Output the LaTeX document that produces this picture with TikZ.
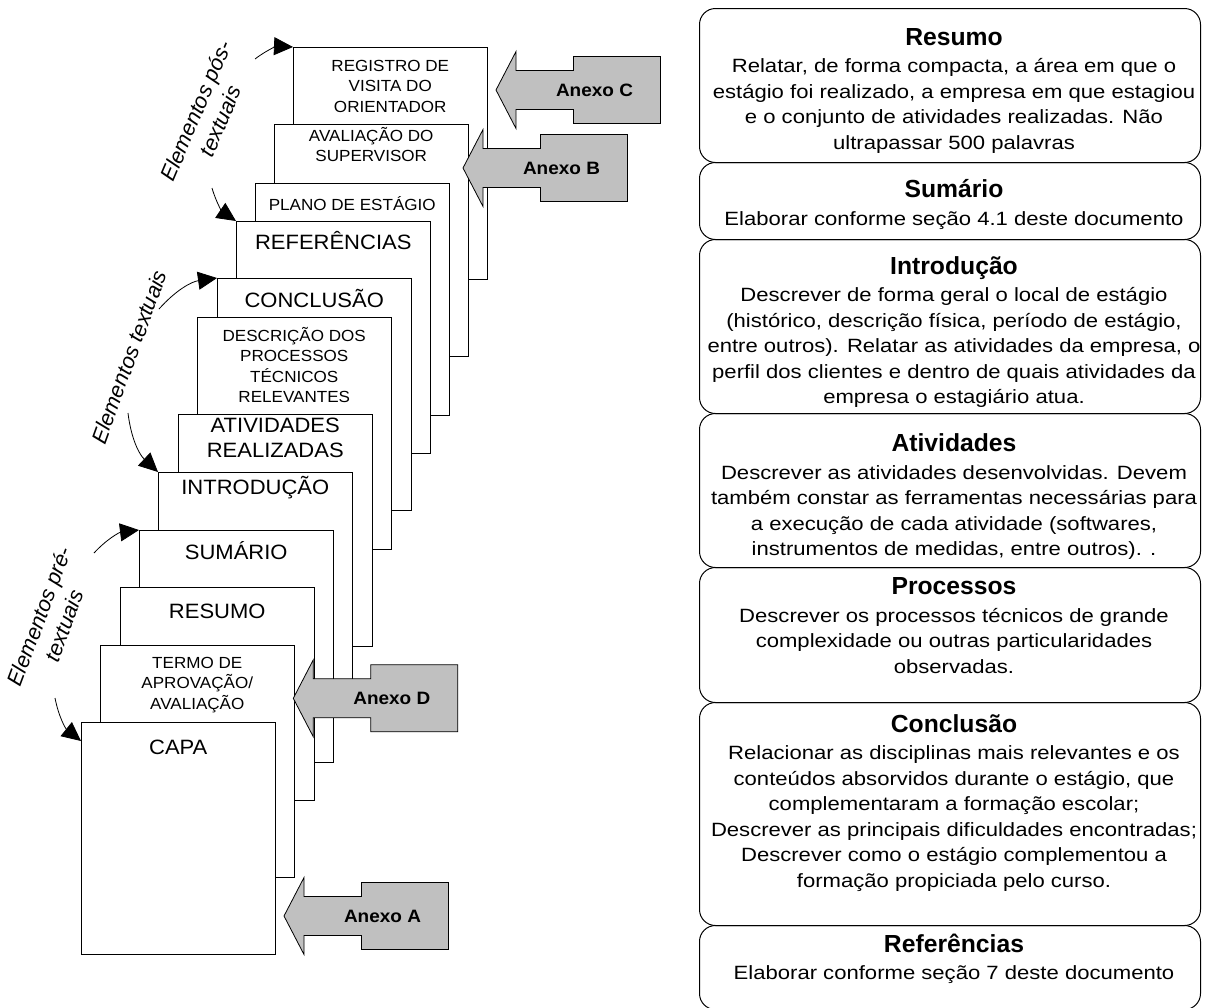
\documentclass[tikz,border=0pt]{standalone}
\usepackage{fontspec}
\setmainfont{Liberation Sans}
\newfontfamily\pagefont[FakeStretch=1.06]{Liberation Sans}
\newfontfamily\descfont[FakeStretch=1.15]{Liberation Sans}
\usetikzlibrary{positioning,arrows.meta}
\definecolor{anexogray}{RGB}{192,192,192}
\newcommand\boxtitle[1]{{\rmfamily\bfseries\fontsize{24.7}{25.5}\selectfont #1}}

\begin{document}
\begin{tikzpicture}[x=1pt, y=-1pt,
    page/.style={draw, fill=white, line width=1pt, anchor=north west,
      minimum width=193.5pt, minimum height=231.5pt, inner sep=0pt},
    small/.style={align=center, inner sep=0pt, font=\pagefont\fontsize{16.1}{20.4}\selectfont},
    big/.style={align=center, inner sep=0pt, font=\pagefont\fontsize{20.75}{24.7}\selectfont},
    part/.style={align=center, inner sep=0pt, font=\itshape\fontsize{21.6}{26.4}\selectfont},
    partarrow/.style={line width=0.8pt, -{Triangle[length=19pt,width=18pt]}},
    infobox/.style={draw, line width=1pt, rounded corners=16pt, anchor=north west,
      minimum width=501pt, inner sep=0pt},
    infotext/.style={align=center, inner sep=0pt, xshift=4pt,
      font=\descfont\fontsize{19.2}{25.5}\selectfont},
    pics/anexo/.style={code={
      \draw[fill=anexogray, line width=0.8pt] (0,0) -- (20,-38.5) -- (20,-19.5) -- (77.5,-19.5)
        -- (77.5,-33.5) -- (164.5,-33.5) -- (164.5,33.5) -- (77.5,33.5) -- (77.5,19.5)
        -- (20,19.5) -- (20,38.5) -- cycle;
      \node[font=\pagefont\bfseries\fontsize{17.9}{20}\selectfont] (-txt) at (98.5,0) {Anexo #1};
    }}]
  \useasboundingbox[fill=white] (0,0) rectangle (1213,1007);

  % pilha de folhas, de tras para a frente
  \node[page] (registro) at (293,47) {};
  \node[small, below=13pt of registro.north] (registroT) {REGISTRO DE\\VISITA DO\\ORIENTADOR};
  \node[page] (avaliacao) at (274,124) {};
  \node[small, below=3pt of avaliacao.north] (avaliacaoT) {AVALIAÇÃO DO\\SUPERVISOR};
  \node[page] (plano) at (255,183) {};
  \node[small, below=13pt of plano.north] (planoT) {PLANO DE ESTÁGIO};
  \node[page] (referencias) at (236,221) {};
  \node[big, below=10pt of referencias.north] (referenciasT) {REFERÊNCIAS};
  \node[page] (conclusao) at (217,278) {};
  \node[big, below=11pt of conclusao.north] (conclusaoT) {CONCLUSÃO};
  \node[page] (descricao) at (197,317) {};
  \node[small, below=10pt of descricao.north] (descricaoT) {DESCRIÇÃO DOS\\PROCESSOS\\TÉCNICOS\\RELEVANTES};
  \node[page] (atividades) at (178,414) {};
  \node[big, below=4pt of atividades.north] (atividadesT) {ATIVIDADES\\REALIZADAS};
  \node[page] (introducao) at (158,472) {};
  \node[big, below=4pt of introducao.north] (introducaoT) {INTRODUÇÃO};
  \node[page] (sumario) at (139,530) {};
  \node[big, below=11pt of sumario.north] (sumarioT) {SUMÁRIO};
  \node[page, minimum height=213pt] (resumo) at (120,587) {};
  \node[big, below=17pt of resumo.north] (resumoT) {RESUMO};
  \node[page] (termo) at (100,645) {};
  \node[small, below=12pt of termo.north] (termoT) {TERMO DE\\APROVAÇÃO/\\AVALIAÇÃO};
  \node[page] (capa) at (81,722) {};
  \node[big, below=18pt of capa.north] (capaT) {CAPA};

  % anexos
  \pic (anexoC) at (496,90) {anexo=C};
  \pic (anexoB) at (463,168) {anexo=B};
  \pic (anexoD) at (293.3,698.3) {anexo=D};
  \pic (anexoA) at (284,916) {anexo=A};

  % grupos de elementos
  \node[part, rotate=67] (posLbl) at (208,116) {Elementos pós-\\textuais};
  \node[part, rotate=70] (texLbl) at (129,357) {Elementos textuais};
  \node[part, rotate=69.5] (preLbl) at (51.5,621) {Elementos pré-\\textuais};
  \coordinate (posA) at (255,59);
  \coordinate (posB) at (212,188);
  \coordinate (texA) at (159,309);
  \coordinate (texB) at (128,413);
  \coordinate (preA) at (94,553);
  \coordinate (preB) at (55,698);
  \draw[partarrow] (posA) to[bend left=20] (registro.north west);
  \draw[partarrow] (posB) to[bend right=20] (referencias.north west);
  \draw[partarrow] (texA) to[bend left=20] (conclusao.north west);
  \draw[partarrow] (texB) to[bend right=20] (introducao.north west);
  \draw[partarrow] (preA) to[bend left=20] (sumario.north west);
  \draw[partarrow] (preB) to[bend right=20] ([yshift=-19pt]capa.north west);

  % descricao de cada parte
  \node[infobox, minimum height=154pt] (infoResumo) at (699,8) {};
  \node[infotext, below=20pt of infoResumo.north] (txtResumo) {\boxtitle{Resumo}\\[2pt]
    Relatar, de forma compacta, a área em que o\\estágio foi realizado, a empresa em que estagiou\\
    e o conjunto de atividades realizadas. Não\\ultrapassar 500 palavras};
  \node[infobox, minimum height=77pt] (infoSumario) at (699,162) {};
  \node[infotext, below=17.5pt of infoSumario.north] (txtSumario) {\boxtitle{Sumário}\\[2pt]
    Elaborar conforme seção 4.1 deste documento};
  \node[infobox, minimum height=174pt] (infoIntro) at (699,239) {};
  \node[infotext, below=17pt of infoIntro.north] (txtIntro) {\boxtitle{Introdução}\\[2pt]
    Descrever de forma geral o local de estágio\\(histórico, descrição física, período de estágio,\\
    entre outros). Relatar as atividades da empresa, o\\perfil dos clientes e dentro de quais atividades da\\
    empresa o estagiário atua.};
  \node[infobox, minimum height=154pt] (infoAtiv) at (699,413) {};
  \node[infotext, below=20.5pt of infoAtiv.north] (txtAtiv) {\boxtitle{Atividades}\\[2pt]
    Descrever as atividades desenvolvidas. Devem\\também constar as ferramentas necessárias para\\
    a execução de cada atividade (softwares,\\instrumentos de medidas, entre outros). .};
  \node[infobox, minimum height=135pt] (infoProc) at (699,567) {};
  \node[infotext, below=10.5pt of infoProc.north] (txtProc) {\boxtitle{Processos}\\[2pt]
    Descrever os processos técnicos de grande\\complexidade ou outras particularidades\\observadas.};
  \node[infobox, minimum height=223pt] (infoConc) at (699,702) {};
  \node[infotext, below=12pt of infoConc.north] (txtConc) {\boxtitle{Conclusão}\\[2pt]
    Relacionar as disciplinas mais relevantes e os\\conteúdos absorvidos durante o estágio, que\\
    complementaram a formação escolar;\\Descrever as principais dificuldades encontradas;\\
    Descrever como o estágio complementou a\\formação propiciada pelo curso.};
  \node[infobox, minimum height=84pt] (infoRef) at (699,925) {};
  \node[infotext, below=8.5pt of infoRef.north] (txtRef) {\boxtitle{Referências}\\[2pt]
    Elaborar conforme seção 7 deste documento};
\end{tikzpicture}
\end{document}
